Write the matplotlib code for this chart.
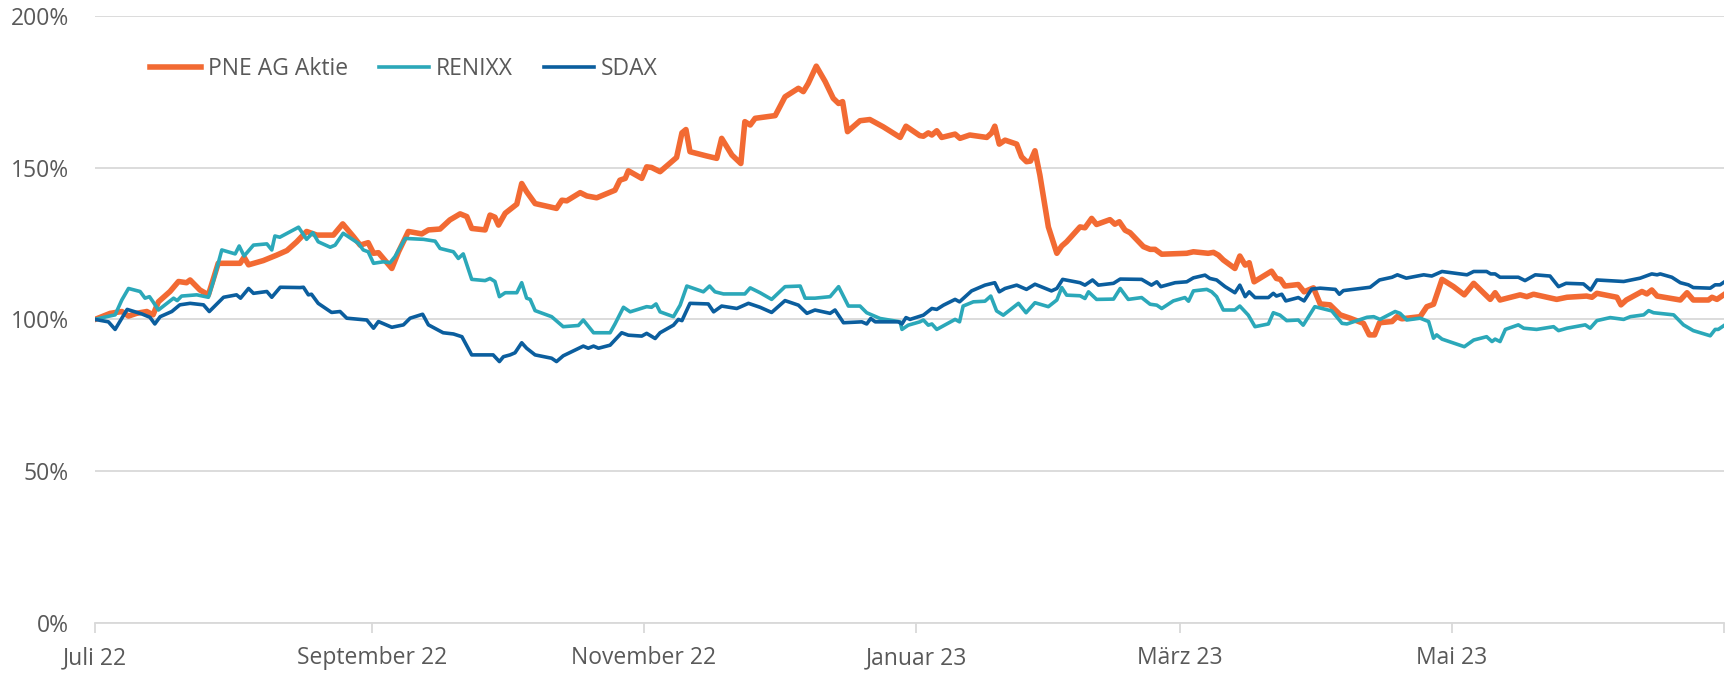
import numpy as np
import pandas as pd
import matplotlib
matplotlib.use("Agg")
import matplotlib.pyplot as plt

# days since 1 July 2022, values in % (start = 100%)
pne_days = [0, 3.4, 6, 7.5, 9.3, 11.6, 13, 14.2, 16.8, 18.7, 20.5, 21.3, 23.5, 25.4, 27.6, 30.2, 32.5,
            33.4, 34.4, 37.7, 40.7, 43, 45.2, 47.4, 49.7, 53.4, 55.5, 57.9, 59.4, 61.2, 62.4, 63.5, 66.5,
            68, 70.2, 73.2, 74.7, 77.3, 79.5, 81.8, 83.3, 84.4, 87.4, 88.5, 89.6, 90.4, 91.9, 94.5, 95.6,
            96.7, 98.6, 103.4, 104.6, 105.7, 108.7, 110.2, 112.4, 116.5, 117.6, 118.8, 119.5, 122.5, 123.6,
            124.7, 126.6, 130.3, 131.5, 132.4, 133.3, 137, 139.3, 140.4, 142.7, 144.7, 145.6, 146.8, 147.9,
            150.5, 152.4, 154.6, 157.6, 158.7, 159.8, 161.6, 163.6, 165.4, 166.6, 167.5, 168.6, 171.4, 173.6,
            176.6, 180.4, 181.7, 184.8, 185.6, 186.7, 187.5, 188.6, 189.7, 192.7, 193.8, 196, 199.8, 200.9,
            201.6, 202.6, 203.9, 206.5, 207.6, 208.7, 209.6, 210.6, 211.7, 213.6, 215.5, 216.6, 217.7, 220.7,
            221.8, 223.3, 224.4, 227.4, 228.5, 229.5, 230.8, 231.9, 234.9, 236.4, 237.5, 239, 244.6, 246.1,
            249.4, 250.6, 251.7, 252.8, 255.4, 256.5, 257.7, 258.6, 259.7, 261.8, 263.6, 264.7, 265.6, 266.6,
            269.6, 270.9, 273, 274.5, 276.7, 279, 281.2, 284.2, 285.5, 286.7, 287.8, 290.6, 291.7, 292.8,
            296.9, 298.4, 299.9, 301.8, 304.4, 306.8, 308.9, 312.6, 313.7, 314.8, 319.3, 320.8, 322.3, 327.5,
            329.8, 334.2, 335.4, 336.5, 341, 341.9, 343.1, 346.6, 347.7, 348.8, 350, 355.2, 356.7, 358.1,
            361.5, 362.3, 363.4, 364.9]
pne_vals = [100, 102, 102.6, 101.1, 102, 102.6, 101.5, 105.8, 109.2, 112.5, 112.1, 113, 109.7, 108.1, 118.5,
            118.5, 118.5, 120.5, 118, 119.4, 121.2, 122.7, 125.6, 129, 127.8, 127.8, 131.5, 127.3, 124.5,
            125.3, 121.8, 122, 116.8, 122.3, 129, 128.2, 129.5, 129.8, 132.8, 134.8, 133.9, 130, 129.5,
            134.4, 133.7, 131.1, 135, 138, 144.8, 142.1, 138.2, 136.6, 139.3, 139.1, 141.8, 140.7, 140.1,
            142.6, 145.9, 146.5, 149, 146.5, 150.3, 150.1, 148.7, 153.4, 161.5, 162.6, 155.3, 153.9, 153.1,
            159.7, 154.2, 151.4, 165.2, 164.1, 166.3, 166.8, 167.2, 173.4, 176.2, 175.1, 177.8, 183.5, 178.4,
            172.9, 171.2, 171.8, 161.9, 165.5, 165.9, 163.5, 160, 163.7, 160.6, 160.4, 161.5, 160.8, 162.2,
            160, 161.1, 159.7, 160.8, 160, 161.5, 163.7, 157.8, 159.1, 157.8, 153.6, 152, 152.2, 155.6,
            147.6, 130.5, 121.8, 124.2, 125.6, 130.5, 130.2, 133.3, 131.3, 132.9, 131.4, 132.2, 129.4, 128.6,
            124, 123.1, 123.1, 121.5, 121.8, 122.3, 121.8, 122.1, 121.2, 119.6, 116.8, 120.9, 117.9, 118.7,
            112.4, 114.3, 115.9, 113.5, 113.2, 111, 111.5, 109.1, 110.4, 105.1, 104.8, 101.5, 100.4, 98.7,
            94.9, 94.9, 98.9, 99.3, 100.9, 100.2, 100.9, 104.2, 105, 113.2, 110.8, 108.1, 111.9, 106.6,
            108.8, 106.4, 108.1, 107.5, 108.3, 106.6, 107.3, 107.7, 107.3, 108.6, 107.3, 104.8, 106.4, 109.2,
            108.4, 109.7, 107.7, 106.4, 108.8, 106.4, 106.4, 107.3, 106.6, 108.1]

renixx_days = [0, 2.6, 4.5, 6, 7.5, 10.1, 11.2, 12.2, 13, 14.2, 17.6, 18.4, 19.4, 22.8, 25.4, 26.5, 28.4,
               31.4, 32.3, 33.4, 35.5, 38.5, 39.6, 40.3, 41.4, 45.6, 47.4, 48.8, 50, 52.7, 53.8, 55.6, 59,
               60.1, 61.2, 62.4, 64.6, 66.1, 67.2, 69.5, 73.6, 76.2, 77.3, 80.3, 81.4, 82.5, 84.4, 87.4,
               88.5, 89.6, 90.6, 91.9, 94.5, 95.6, 96.7, 97.5, 98.6, 102.3, 104.9, 108.3, 109.4, 111.7,
               115.4, 116.5, 118.4, 119.9, 123.6, 124.7, 125.7, 126.6, 129.6, 131.1, 132.6, 136.3, 137.7,
               138.9, 140.8, 145.6, 146.8, 149, 151.6, 154.6, 158, 159.1, 161.3, 164.7, 166.6, 168.8, 171.4,
               172.9, 175.9, 180.4, 180.8, 182.2, 184.8, 185.6, 186.7, 187.5, 188.6, 192.7, 193.7, 194.5,
               196.8, 199.4, 200.7, 202, 203.5, 206.9, 208.6, 210.6, 213.6, 215.5, 216.6, 217.7, 220.7,
               221.8, 222.6, 224.4, 228.2, 229.7, 231.5, 234.5, 236.4, 237.9, 239, 241.6, 244.2, 245, 246.1,
               249.1, 250.2, 251.3, 252.8, 255.4, 256.5, 258.4, 259.9, 262.9, 264, 265.5, 267, 269.6, 270.7,
               273.3, 277.1, 279.4, 280.5, 285, 286.5, 287.9, 291.3, 292.4, 293.9, 296.9, 298.8, 299.9,
               300.6, 301.8, 306.8, 308.9, 311.8, 313, 313.7, 314.8, 316, 318.9, 320.1, 323, 326.8, 327.9,
               329.8, 333.9, 335, 336.5, 339.5, 342.5, 344, 347, 348.1, 349.2, 353.7, 355.9, 358.1, 361.9,
               363, 363.7, 364.9]
renixx_vals = [100, 100.9, 101.5, 106.4, 110.2, 109.2, 107, 107.5, 105.8, 103.1, 107, 106.2, 107.7, 108.1,
               107.3, 112.5, 122.9, 121.6, 124.2, 120.9, 124.5, 124.9, 122.9, 127.5, 127.1, 130.4, 126.4,
               128.6, 125.6, 123.8, 124.5, 128.4, 125.1, 122.9, 122.3, 118.5, 119, 118.7, 120.7, 126.7,
               126.4, 125.8, 123.4, 122.3, 120.1, 121.6, 113.2, 112.8, 113.5, 112.5, 107.5, 108.8, 108.8,
               112.1, 107, 106.6, 102.9, 100.9, 97.6, 98, 99.8, 95.6, 95.6, 98.5, 104, 102.5, 104.2, 104,
               105.1, 102.5, 100.9, 104.7, 111, 109.1, 111, 109.1, 108.4, 108.4, 110.4, 108.8, 106.6, 110.8,
               111, 107, 107, 107.5, 110.8, 104.4, 104.4, 102.2, 100.3, 99.2, 96.7, 98.1, 99.2, 99.8, 98.1,
               98.5, 96.7, 100, 99.2, 104.4, 105.8, 106, 107.7, 102.8, 101.4, 105.3, 102.2, 105.5, 104.2,
               106.4, 110.5, 108, 107.8, 106.9, 109.1, 106.6, 106.7, 110.2, 106.6, 107.2, 105, 104.7, 103.6,
               106.1, 107.2, 106, 109.4, 109.9, 109.1, 107.5, 103.1, 103.1, 104.4, 101.4, 97.6, 98.5, 102.2,
               101.4, 99.6, 99.8, 98.1, 104.2, 102.8, 98.7, 98.5, 100.7, 100.9, 100, 102.6, 102, 99.8, 100.4,
               99.3, 93.8, 94.9, 93.5, 91, 93.2, 94.3, 92.7, 93.5, 92.7, 96.7, 98.2, 97.1, 96.7, 97.6, 96.3,
               97.1, 98.2, 97.1, 99.6, 100.6, 100, 100.9, 101.5, 102.9, 102.2, 101.5, 98.2, 96.3, 94.6, 96.7,
               96.7, 97.9]

sdax_days = [0, 3, 4.5, 7.2, 10.5, 12.3, 13.4, 14.6, 17.2, 19, 21.3, 24.3, 25.6, 28.8, 31.7, 32.6, 34.4,
             35.5, 38.5, 39.6, 41.5, 45.9, 46.7, 47.8, 48.5, 50, 53, 54.9, 56.4, 60.9, 62.4, 63.5, 66.5,
             69.1, 70.6, 73.4, 74.7, 78, 80.3, 82.2, 84.4, 89.2, 90.6, 91.5, 93, 94.1, 95.6, 96.7, 98.6,
             102.3, 103.4, 104.9, 109.4, 110.5, 111.7, 112.8, 115.4, 118, 119.5, 122.5, 123.6, 125.5, 126.6,
             129.6, 130.7, 131.5, 133.3, 137.4, 138.6, 140.4, 143.8, 146.4, 149, 151.6, 154.6, 157.6, 159.5,
             161.3, 164.7, 165.8, 167.7, 171.8, 172.9, 173.8, 174.8, 180, 180.8, 181.7, 182.6, 185.6, 187.5,
             188.6, 190.1, 192.7, 193.7, 196.4, 199.4, 201.6, 202.6, 203.9, 206.5, 208.7, 210.6, 214.3,
             215.5, 216.8, 220.7, 221.8, 223.5, 224.8, 228.2, 229.7, 234.5, 236.7, 237.9, 238.8, 242, 244.6,
             246.1, 248.7, 249.8, 251.3, 253.2, 255.4, 256.5, 257.7, 258.6, 259.9, 262.9, 264, 264.7, 265.9,
             266.8, 269.6, 270.9, 272.6, 274.5, 277.9, 278.8, 279.7, 285.7, 287.8, 290.6, 291.8, 293.8,
             297.7, 299.5, 301.8, 307.4, 308.9, 311.8, 312.7, 313.7, 314.8, 318.9, 320.4, 322.7, 326, 327.9,
             329.6, 333.5, 335.1, 336.5, 340.2, 342.5, 346.2, 348.8, 350, 350.7, 353.3, 355.2, 357, 358.1,
             361.9, 363, 364.1, 364.9]
sdax_vals = [100, 99.2, 96.7, 103.3, 101.8, 100.7, 98.5, 100.9, 102.6, 104.8, 105.3, 104.8, 102.6, 107.3,
             108.1, 107, 110.2, 108.6, 109.2, 107.3, 110.6, 110.5, 110.6, 108.1, 108.3, 105.3, 102.3, 102.6,
             100.4, 99.8, 97.1, 99.3, 97.4, 98.2, 100.4, 101.7, 98.2, 95.6, 95.2, 94.3, 88.3, 88.3, 86.1,
             87.7, 88.3, 89, 92.3, 90.5, 88.3, 87.2, 86.1, 88, 91.2, 90.5, 91.2, 90.5, 91.5, 95.6, 94.8,
             94.5, 95.4, 93.7, 95.6, 98.1, 100, 99.6, 105.3, 105.1, 102.5, 104.4, 103.6, 105.3, 104, 102.3,
             106.2, 104.7, 102, 103.1, 102, 103.1, 98.9, 99.2, 98.5, 100.3, 99.2, 99.2, 98.5, 100.6, 100,
             101.4, 103.6, 103.3, 104.7, 106.6, 105.8, 109.4, 111.3, 112.1, 109.1, 110.2, 111.3, 109.9,
             111.6, 109.4, 110.2, 113.2, 112.1, 111.3, 113, 111.3, 111.9, 113.3, 113.2, 111.3, 112.4,
             110.8, 112.1, 112.4, 113.7, 114.6, 113.5, 113, 110.8, 108.8, 111.3, 107.5, 109.1, 107.2, 107.2,
             108.6, 107.7, 108.3, 106.1, 107.2, 106.1, 110, 110.3, 109.9, 108.3, 109.5, 110.6, 113, 113.9,
             114.7, 113.6, 114.7, 114.3, 115.8, 114.7, 115.8, 115.8, 115, 115, 113.9, 113.9, 112.8, 114.7,
             114.3, 110.8, 111.9, 111.7, 109.7, 113, 112.7, 112.5, 113.6, 115, 114.7, 115, 113.9, 112.1,
             111.4, 110.5, 110.3, 111.4, 111.4, 112.2]

names = ["PNE AG Aktie", "RENIXX", "SDAX"]
colors = ["#F26A33", "#2BA8B9", "#0B5E9E"]
widths = [4.0, 2.6, 2.6]

start = pd.Timestamp("2022-07-01")
tick_dates = pd.to_datetime(["2022-07-01", "2022-09-01", "2022-11-01", "2023-01-01",
                             "2023-03-01", "2023-05-01", "2023-07-01"])
tick_labels = ["Juli 22", "September 22", "November 22", "Januar 23", "März 23", "Mai 23", ""]

plt.rcParams["font.family"] = ["Open Sans", "DejaVu Sans"]
fs = 16.5

fig = plt.figure(figsize=(17.31, 6.74), dpi=100)
ax = fig.add_axes([0.0549, 0.0761, 0.9411, 0.9])

series = [(pne_days, pne_vals), (renixx_days, renixx_vals), (sdax_days, sdax_vals)]
for (d, v), name, c, w in zip(series, names, colors, widths):
    dates = start + pd.to_timedelta(np.array(d), unit="D")
    ax.plot(dates, v, color=c, lw=w, label=name, solid_joinstyle="round")

ax.set_ylim(0, 200)
ax.set_xlim(tick_dates[0], tick_dates[-1])
ax.set_yticks([0, 50, 100, 150, 200])
ax.set_yticklabels([f"{v}%" for v in [0, 50, 100, 150, 200]])
ax.set_xticks(tick_dates)
ax.set_xticklabels(tick_labels)

ax.grid(axis="y", color="#D9D9D9", lw=1.3)
ax.set_axisbelow(True)
for s in ["top", "right", "left"]:
    ax.spines[s].set_visible(False)
ax.spines["bottom"].set_color("#D9D9D9")
ax.spines["bottom"].set_linewidth(1.3)
ax.tick_params(axis="y", length=0, pad=19, labelsize=fs, labelcolor="#595959")
ax.tick_params(axis="x", length=7, width=1.3, color="#D9D9D9", pad=10, labelsize=fs, labelcolor="#595959")

ax.legend(loc="center left", bbox_to_anchor=(0.034, 0.912), ncol=3, frameon=False,
          fontsize=fs, labelcolor="#595959", handlelength=2.2, handletextpad=0.3,
          columnspacing=1.35, borderpad=0, borderaxespad=0)

fig.savefig("out.png", dpi=100)
